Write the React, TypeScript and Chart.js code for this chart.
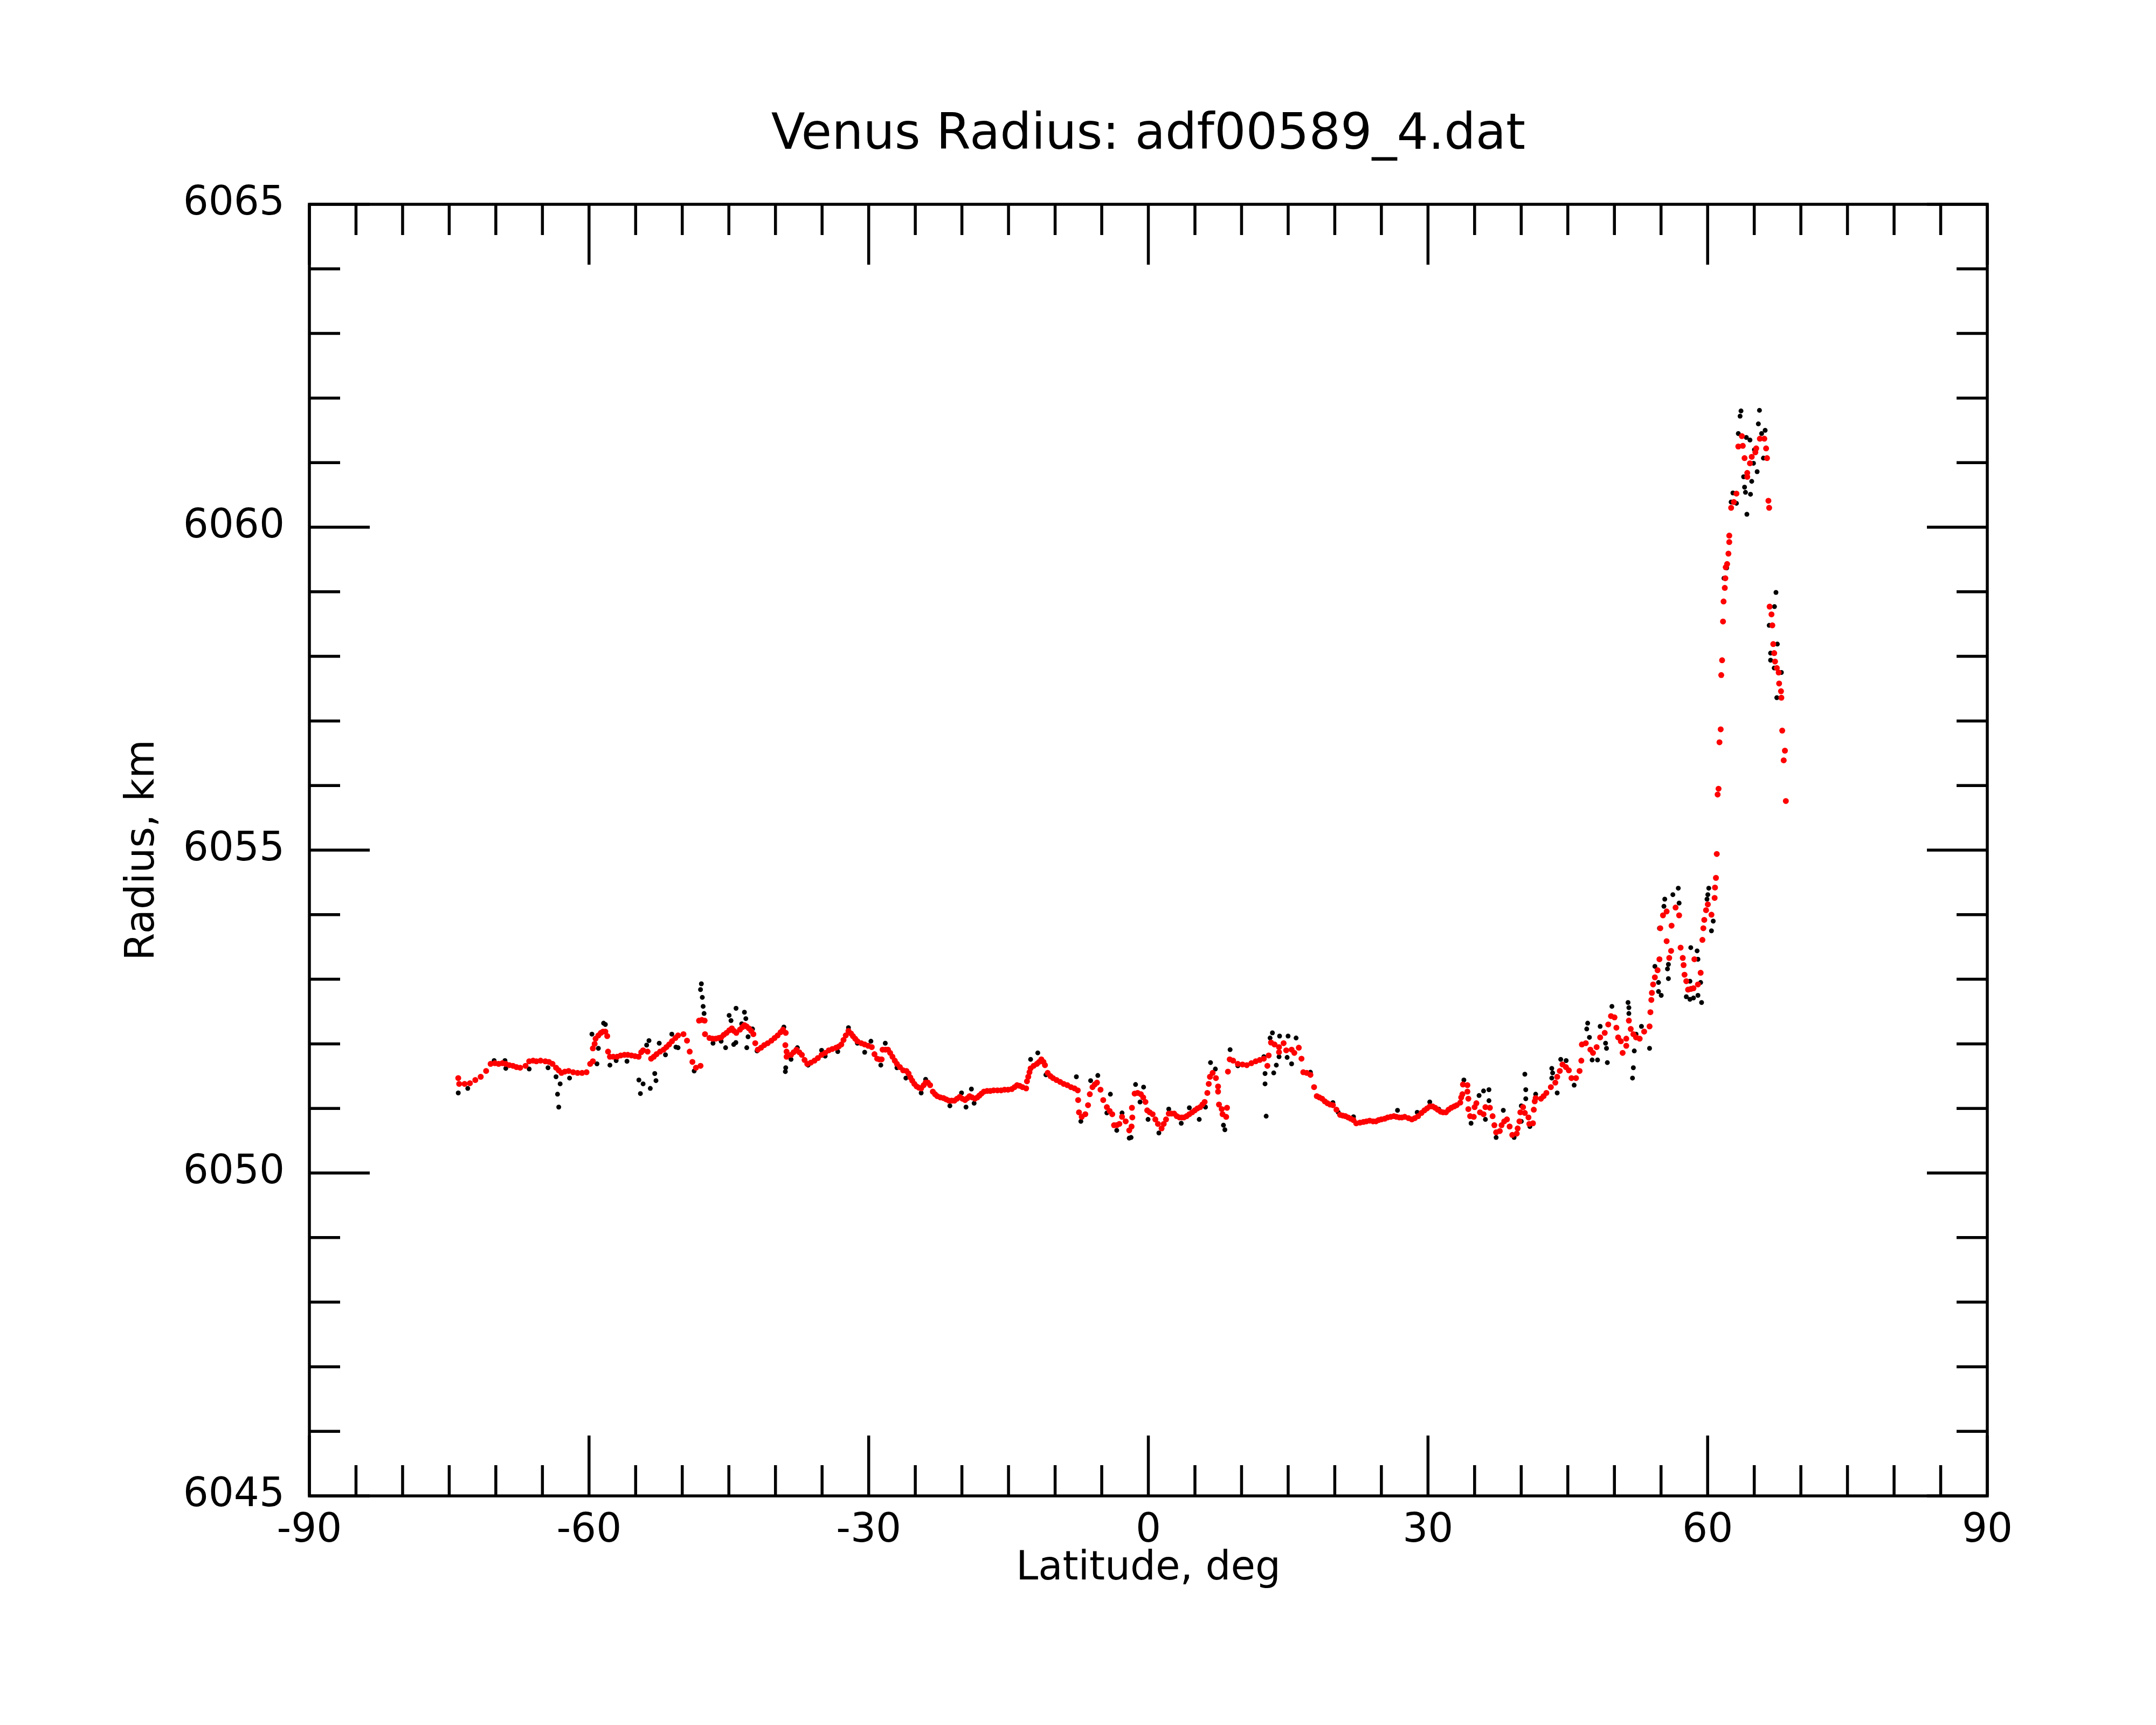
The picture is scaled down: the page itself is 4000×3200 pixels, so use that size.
import React, { useEffect, useRef } from "react";
import Chart from "chart.js/auto";

// tick positions (major ones get labels)
const latitudeTicks = [-90, -60, -30, 0, 30, 60, 90];
const latitudeMinorTicks = [
  -85, -80, -75, -70, -65, -55, -50, -45, -40, -35, -25, -20, -15, -10, -5,
  5, 10, 15, 20, 25, 35, 40, 45, 50, 55, 65, 70, 75, 80, 85,
];
const radiusTicks = [6045, 6050, 6055, 6060, 6065];
const radiusMinorTicks = [
  6046, 6047, 6048, 6049, 6051, 6052, 6053, 6054, 6056, 6057, 6058, 6059,
  6061, 6062, 6063, 6064,
];

// smoothed profile (red), [latitude, radius]
const fitSouth: [number, number][] = [
  [-74.03, 6051.47], [-73.93, 6051.38], [-73.35, 6051.38], [-72.78, 6051.39], [-72.2, 6051.44],
  [-71.62, 6051.49], [-71.04, 6051.58], [-70.56, 6051.69], [-70.1, 6051.7], [-69.7, 6051.69],
  [-69.3, 6051.7], [-68.93, 6051.69], [-68.55, 6051.67], [-68.16, 6051.66], [-67.78, 6051.64],
  [-67.39, 6051.63], [-66.81, 6051.66], [-66.42, 6051.73], [-66.0, 6051.74], [-65.65, 6051.73],
  [-65.2, 6051.74], [-64.69, 6051.73], [-64.3, 6051.72], [-63.92, 6051.69], [-63.54, 6051.63],
  [-63.25, 6051.59], [-62.96, 6051.55], [-62.6, 6051.57], [-62.19, 6051.58], [-61.7, 6051.56],
  [-61.23, 6051.55], [-60.75, 6051.55], [-60.27, 6051.56], [-59.88, 6051.69], [-59.59, 6051.73],
  [-59.59, 6051.93], [-59.4, 6052.0], [-59.3, 6052.08], [-59.0, 6052.13], [-58.73, 6052.17],
  [-58.5, 6052.19], [-58.25, 6052.19], [-58.05, 6052.12], [-57.96, 6051.88], [-57.76, 6051.8],
  [-57.4, 6051.8], [-56.99, 6051.8], [-56.6, 6051.82], [-56.2, 6051.83], [-55.84, 6051.83],
  [-55.45, 6051.82], [-55.07, 6051.81], [-54.68, 6051.8], [-54.4, 6051.87], [-54.2, 6051.9],
  [-53.72, 6051.88], [-53.34, 6051.77], [-53.05, 6051.8], [-52.76, 6051.84], [-52.38, 6051.88],
  [-51.99, 6051.91], [-51.7, 6051.95], [-51.41, 6051.99], [-51.1, 6052.04], [-50.74, 6052.09],
  [-50.45, 6052.13], [-49.87, 6052.15], [-49.49, 6052.05], [-49.2, 6051.88], [-48.91, 6051.72],
  [-48.53, 6051.63], [-48.04, 6051.66], [-48.2, 6052.36], [-47.9, 6052.37], [-47.6, 6052.36],
  [-47.56, 6052.15], [-47.08, 6052.09], [-46.75, 6052.08], [-46.41, 6052.08], [-46.1, 6052.09],
  [-45.83, 6052.1], [-45.55, 6052.14], [-45.25, 6052.17], [-44.95, 6052.21], [-44.68, 6052.24],
  [-44.45, 6052.2], [-44.2, 6052.17], [-43.81, 6052.22], [-43.55, 6052.26], [-43.33, 6052.29],
  [-43.1, 6052.27], [-42.85, 6052.24], [-42.6, 6052.2], [-42.37, 6052.15], [-42.17, 6052.01],
  [-41.89, 6051.91], [-41.55, 6051.94], [-41.21, 6051.98], [-40.83, 6052.01], [-40.44, 6052.05],
  [-40.1, 6052.09], [-39.77, 6052.13], [-39.45, 6052.18], [-39.19, 6052.22], [-38.9, 6052.17],
  [-38.94, 6051.98], [-38.81, 6051.88], [-38.81, 6051.8], [-38.33, 6051.83], [-38.05, 6051.87],
  [-37.75, 6051.91], [-37.45, 6051.87], [-37.17, 6051.83], [-36.88, 6051.75], [-36.59, 6051.69],
  [-36.2, 6051.71], [-35.82, 6051.74], [-35.45, 6051.78], [-35.05, 6051.83], [-34.67, 6051.86],
  [-34.28, 6051.9], [-33.9, 6051.92], [-33.51, 6051.94], [-33.2, 6051.96], [-32.94, 6051.99],
  [-32.7, 6052.06], [-32.46, 6052.13], [-32.17, 6052.2], [-31.9, 6052.16], [-31.69, 6052.12],
  [-31.45, 6052.08], [-31.21, 6052.04], [-30.8, 6052.01], [-30.43, 6051.99], [-30.05, 6051.97],
  [-29.67, 6051.95], [-29.38, 6051.84], [-29.09, 6051.77], [-28.85, 6051.76], [-28.61, 6051.76],
  [-28.51, 6051.91], [-28.2, 6051.91], [-27.93, 6051.91], [-27.7, 6051.86], [-27.45, 6051.8],
  [-27.2, 6051.74], [-26.97, 6051.69], [-26.65, 6051.64], [-26.3, 6051.59],
];

const fitEquator: [number, number][] = [
  [-25.95, 6051.58], [-25.72, 6051.54], [-25.53, 6051.48], [-25.33, 6051.43], [-25.1, 6051.38],
  [-24.85, 6051.34], [-24.6, 6051.32], [-24.37, 6051.31], [-24.1, 6051.36], [-23.89, 6051.4],
  [-23.65, 6051.4], [-23.41, 6051.36], [-23.12, 6051.26], [-22.88, 6051.22], [-22.64, 6051.19],
  [-22.3, 6051.17], [-21.97, 6051.16], [-21.68, 6051.14], [-21.39, 6051.12], [-21.1, 6051.12],
  [-20.81, 6051.12], [-20.52, 6051.15], [-20.23, 6051.18], [-19.95, 6051.15], [-19.66, 6051.13],
  [-19.4, 6051.16], [-19.18, 6051.19], [-18.9, 6051.17], [-18.6, 6051.15], [-18.35, 6051.17],
  [-18.12, 6051.2], [-17.9, 6051.23], [-17.64, 6051.26], [-17.3, 6051.27], [-16.96, 6051.27],
  [-16.6, 6051.28], [-16.19, 6051.28], [-15.8, 6051.28], [-15.42, 6051.29], [-15.05, 6051.29],
  [-14.65, 6051.3], [-14.35, 6051.33], [-14.08, 6051.36], [-13.8, 6051.35], [-13.5, 6051.33],
  [-13.11, 6051.31], [-13.02, 6051.42], [-12.88, 6051.49], [-12.75, 6051.56], [-12.63, 6051.62],
  [-12.3, 6051.66], [-11.96, 6051.69], [-11.72, 6051.72], [-11.48, 6051.76], [-11.25, 6051.72],
  [-11.09, 6051.67], [-10.8, 6051.55], [-10.5, 6051.5], [-10.23, 6051.47], [-9.85, 6051.44],
  [-9.46, 6051.41], [-9.08, 6051.38], [-8.69, 6051.36], [-8.3, 6051.33], [-7.92, 6051.31],
  [-7.57, 6051.28], [-7.53, 6051.13], [-7.44, 6050.94], [-7.15, 6050.87], [-6.76, 6050.91],
  [-6.47, 6051.05], [-6.28, 6051.22], [-5.99, 6051.33], [-5.75, 6051.37], [-5.51, 6051.4],
  [-5.13, 6051.29], [-4.84, 6051.13], [-4.45, 6051.02], [-4.15, 6050.96], [-3.87, 6050.91],
  [-3.68, 6050.74], [-3.4, 6050.74], [-3.11, 6050.76], [-2.82, 6050.87], [-2.43, 6050.8],
  [-2.05, 6050.66], [-1.8, 6050.72], [-1.72, 6050.86], [-1.76, 6051.01], [-1.47, 6051.23],
  [-1.15, 6051.24], [-0.8, 6051.22], [-0.55, 6051.17], [-0.31, 6051.1], [-0.12, 6050.97],
  [0.15, 6050.94], [0.46, 6050.91], [0.75, 6050.83], [1.03, 6050.76], [1.42, 6050.69],
  [1.65, 6050.76], [1.9, 6050.83], [2.19, 6050.92], [2.48, 6050.92], [2.77, 6050.92],
  [3.05, 6050.88], [3.34, 6050.86], [3.6, 6050.86], [3.82, 6050.86], [4.1, 6050.88],
  [4.4, 6050.91], [4.7, 6050.94], [4.98, 6050.97], [5.27, 6051.0], [5.56, 6051.02],
  [5.8, 6051.06], [6.04, 6051.1], [6.33, 6051.24], [6.48, 6051.38], [6.61, 6051.49],
  [6.9, 6051.55], [7.25, 6051.47], [7.48, 6051.34], [7.48, 6051.26], [7.58, 6051.06],
  [7.87, 6050.99], [8.44, 6051.01], [7.96, 6050.91], [8.35, 6050.87], [8.54, 6051.57],
  [8.73, 6051.76], [9.1, 6051.74], [9.6, 6051.69], [10.1, 6051.68], [10.56, 6051.67],
  [11.05, 6051.7], [11.52, 6051.73], [11.95, 6051.75], [12.39, 6051.77], [12.77, 6051.66],
  [12.91, 6051.82], [13.16, 6052.02], [13.54, 6051.99], [14.02, 6051.95], [14.51, 6052.01],
  [14.02, 6051.87], [14.79, 6051.9], [15.37, 6051.91], [15.66, 6051.86], [16.14, 6051.94],
  [16.43, 6051.77], [16.62, 6051.56], [17.0, 6051.55], [17.39, 6051.52], [17.78, 6051.33],
  [18.07, 6051.19], [18.35, 6051.17], [18.64, 6051.15], [18.93, 6051.11], [19.22, 6051.08],
  [19.5, 6051.06], [19.8, 6051.05], [20.18, 6050.98], [20.57, 6050.9], [20.85, 6050.89],
  [21.14, 6050.88], [21.43, 6050.86], [21.72, 6050.84], [22.0, 6050.82],
];

const fitNorth: [number, number][] = [
  [22.3, 6050.77], [22.7, 6050.78], [23.07, 6050.79], [23.4, 6050.8], [23.74, 6050.81],
  [24.1, 6050.8], [24.42, 6050.8], [24.7, 6050.82], [24.99, 6050.83], [25.35, 6050.84],
  [25.67, 6050.86], [26.0, 6050.87], [26.34, 6050.88], [26.62, 6050.87], [26.92, 6050.86],
  [27.2, 6050.86], [27.5, 6050.87], [27.9, 6050.85], [28.27, 6050.83], [28.6, 6050.85],
  [28.94, 6050.88], [29.3, 6050.93], [29.61, 6050.97], [29.9, 6051.0], [30.19, 6051.03],
  [30.5, 6051.03], [30.77, 6051.01], [31.05, 6050.98], [31.35, 6050.95], [31.62, 6050.94],
  [31.92, 6050.94], [32.2, 6050.98], [32.5, 6051.01], [32.8, 6051.03], [33.08, 6051.05],
  [33.46, 6051.09], [33.56, 6051.17], [33.69, 6051.22], [33.75, 6051.37], [34.23, 6051.36],
  [34.23, 6051.26], [34.33, 6051.15], [34.33, 6050.99], [34.52, 6050.88], [34.91, 6050.87],
  [35.0, 6051.02], [35.19, 6051.08], [35.58, 6050.94], [35.96, 6050.91], [36.16, 6051.02],
  [36.64, 6051.01], [36.93, 6050.88], [37.12, 6050.74], [37.31, 6050.63], [37.7, 6050.65],
  [37.89, 6050.74], [38.18, 6050.8], [38.47, 6050.83], [38.76, 6050.72], [39.04, 6050.59],
  [39.52, 6050.61], [39.62, 6050.69], [39.81, 6050.8], [39.91, 6050.94], [40.2, 6051.02],
  [40.39, 6050.93], [40.78, 6050.86], [40.87, 6050.76], [41.26, 6050.77], [41.35, 6050.98],
  [41.45, 6051.11], [41.55, 6051.16], [42.12, 6051.15], [42.4, 6051.19], [42.7, 6051.24],
  [43.18, 6051.33], [43.66, 6051.4], [43.86, 6051.49], [44.14, 6051.58], [44.43, 6051.68],
  [44.8, 6051.64], [45.11, 6051.59], [45.39, 6051.47], [45.88, 6051.47], [46.26, 6051.58],
  [46.45, 6051.74], [46.51, 6051.99], [46.93, 6052.01], [47.42, 6051.91], [47.7, 6051.86],
  [48.09, 6051.95], [48.47, 6052.1], [48.96, 6052.17], [49.34, 6052.3], [49.63, 6052.43],
  [50.01, 6052.41], [50.21, 6052.25], [50.4, 6052.1], [50.69, 6052.04], [50.88, 6051.86],
  [51.27, 6051.97], [51.27, 6052.08], [51.55, 6052.36], [51.75, 6052.23], [52.03, 6052.15],
  [52.32, 6052.1], [52.71, 6052.08], [53.19, 6052.19], [53.77, 6052.27], [53.86, 6052.49],
  [53.96, 6052.68], [54.02, 6052.79], [54.15, 6052.92], [54.34, 6053.03], [54.63, 6053.14],
  [54.83, 6053.31], [54.92, 6053.79], [55.21, 6053.99], [55.6, 6054.05], [56.13, 6053.83],
  [55.6, 6053.59], [56.08, 6053.44], [55.88, 6053.33], [56.56, 6054.11], [56.94, 6053.99],
  [57.1, 6053.49], [57.33, 6053.33], [57.42, 6053.22], [57.52, 6053.07], [57.71, 6052.97],
  [57.9, 6052.84], [58.2, 6052.85], [58.48, 6052.86], [58.96, 6052.92], [58.58, 6053.31],
  [59.25, 6053.1], [59.44, 6053.61], [59.54, 6053.79], [59.64, 6053.92], [59.83, 6054.07],
  [60.02, 6054.16], [60.41, 6054.0], [60.75, 6054.26], [60.79, 6054.42], [60.89, 6054.57],
  [60.98, 6054.94],
];

const fitPeak: [number, number][] = [
  [61.07, 6055.86], [61.17, 6055.95], [61.27, 6056.67], [61.4, 6056.87], [61.46, 6057.71],
  [61.55, 6057.94], [61.65, 6058.54], [61.71, 6058.85], [61.84, 6059.06], [61.9, 6059.21],
  [61.94, 6059.38], [62.09, 6059.43], [62.23, 6059.59], [62.32, 6059.77], [62.32, 6059.87],
  [62.52, 6060.3], [62.81, 6060.39], [63.09, 6060.52], [63.29, 6061.25], [63.77, 6061.26],
  [63.67, 6061.41], [63.96, 6061.07], [64.25, 6060.84], [64.25, 6060.78], [64.54, 6060.99],
  [64.73, 6061.09], [65.12, 6061.16], [65.21, 6061.22], [65.6, 6061.37], [66.08, 6061.37],
  [66.27, 6061.22], [66.37, 6061.07], [66.52, 6060.41], [66.6, 6060.3], [66.65, 6058.77],
  [66.85, 6058.65], [66.94, 6058.48], [67.04, 6058.19], [67.14, 6058.05], [67.23, 6057.92],
  [67.42, 6057.82], [67.62, 6057.75], [67.67, 6057.58], [67.87, 6057.46], [67.91, 6057.36],
  [68.0, 6056.85], [68.29, 6056.54], [68.16, 6056.39], [68.39, 6055.76],
];

// raw measurements (black) that stand apart from the smoothed profile
const rawSouth: [number, number][] = [
  [-74.03, 6051.24], [-73.01, 6051.31], [-70.18, 6051.74], [-69.02, 6051.74], [-68.93, 6051.62],
  [-66.42, 6051.61], [-64.4, 6051.63], [-63.54, 6051.49], [-63.1, 6051.38], [-63.38, 6051.22],
  [-63.25, 6051.02], [-62.09, 6051.47], [-59.69, 6052.15], [-59.0, 6051.93], [-59.15, 6051.69],
  [-58.44, 6052.32], [-58.25, 6052.3], [-57.76, 6051.67], [-57.09, 6051.74], [-55.93, 6051.73],
  [-54.65, 6051.44], [-54.2, 6051.38], [-54.49, 6051.23], [-53.43, 6051.31], [-52.95, 6051.54],
  [-52.82, 6051.43], [-53.57, 6052.05], [-53.82, 6051.98], [-52.47, 6052.01], [-51.8, 6051.83],
  [-51.12, 6052.15], [-50.68, 6051.95], [-50.45, 6051.94], [-48.72, 6051.58], [-47.95, 6052.93],
  [-48.04, 6052.84], [-47.85, 6052.72], [-47.76, 6052.58], [-47.66, 6052.47], [-46.7, 6052.01],
  [-45.83, 6052.04], [-45.35, 6051.94], [-44.97, 6052.44], [-44.77, 6052.36], [-44.23, 6052.55],
  [-44.48, 6051.99], [-44.25, 6052.02], [-43.62, 6052.31], [-43.33, 6052.49], [-43.18, 6052.39],
  [-42.94, 6052.11], [-43.08, 6051.94], [-42.46, 6052.23], [-41.98, 6051.89], [-39.1, 6052.26],
  [-38.9, 6051.63], [-38.94, 6051.57], [-38.33, 6051.76], [-37.65, 6051.94], [-36.5, 6051.67],
  [-35.05, 6051.9], [-34.67, 6051.81], [-33.32, 6051.88], [-32.17, 6052.25], [-31.21, 6052.01],
  [-30.43, 6051.87], [-29.76, 6052.04], [-28.7, 6051.67], [-28.22, 6052.01], [-26.97, 6051.63],
];

const rawEquator: [number, number][] = [
  [-26.01, 6051.47], [-23.89, 6051.45], [-24.37, 6051.24], [-21.29, 6051.04], [-20.04, 6051.24],
  [-19.56, 6051.02], [-18.98, 6051.3], [-18.69, 6051.08], [-12.63, 6051.76], [-11.86, 6051.86],
  [-10.99, 6051.52], [-7.72, 6051.49], [-7.24, 6050.8], [-6.19, 6051.43], [-5.42, 6051.51],
  [-4.07, 6051.22], [-4.45, 6050.93], [-3.39, 6050.66], [-2.82, 6050.93], [-2.05, 6050.54],
  [-1.85, 6050.55], [-1.37, 6051.37], [-0.51, 6051.33], [-0.89, 6051.1], [-0.03, 6050.83],
  [1.13, 6050.62], [2.19, 6050.99], [3.53, 6050.77], [4.4, 6051.01], [5.46, 6050.83],
  [6.13, 6051.02], [6.67, 6051.71], [7.19, 6051.61], [8.06, 6050.74], [8.21, 6050.67],
  [8.77, 6051.91], [9.6, 6051.66], [12.39, 6051.8], [12.52, 6051.54], [12.52, 6051.38],
  [12.64, 6050.88], [13.31, 6052.17], [13.06, 6052.09], [13.45, 6051.55], [13.73, 6051.67],
  [14.08, 6052.12], [14.99, 6052.12], [15.85, 6052.09], [15.37, 6051.69], [14.02, 6051.8],
  [14.89, 6051.79], [17.39, 6051.56], [19.8, 6051.09], [20.37, 6050.94], [22.01, 6050.87],
];

const rawNorth: [number, number][] = [
  [26.73, 6050.97], [28.84, 6050.94], [30.19, 6051.1], [31.15, 6050.99], [33.85, 6051.44],
  [34.62, 6050.77], [35.48, 6051.2], [35.96, 6051.27], [36.54, 6051.29], [36.54, 6051.12],
  [36.16, 6050.83], [37.31, 6050.55], [38.08, 6050.97], [39.24, 6050.55], [40.01, 6050.8],
  [40.01, 6051.04], [40.39, 6051.53], [40.49, 6051.29], [40.49, 6051.15], [40.93, 6050.72],
  [41.55, 6051.22], [43.28, 6051.62], [43.37, 6051.55], [43.28, 6051.47], [43.86, 6051.24],
  [44.24, 6051.76], [44.82, 6051.74], [45.68, 6051.36], [47.13, 6052.32], [47.03, 6052.23],
  [47.32, 6052.1], [47.61, 6051.75], [48.19, 6051.75], [48.47, 6052.27], [49.05, 6052.01],
  [49.15, 6051.93], [49.24, 6051.71], [49.73, 6052.58], [51.46, 6052.64], [51.55, 6052.47],
  [51.55, 6052.56], [52.13, 6051.89], [52.03, 6051.63], [51.94, 6051.47], [52.9, 6052.27],
  [52.32, 6052.15], [53.77, 6051.93], [54.34, 6053.2], [54.73, 6052.95], [54.73, 6052.81],
  [55.02, 6052.75], [54.83, 6053.79], [55.4, 6054.24], [55.31, 6054.13], [56.27, 6054.31],
  [56.85, 6054.41], [56.94, 6054.18], [55.79, 6053.23], [55.69, 6053.16], [55.79, 6053.01],
  [58.19, 6053.49], [58.87, 6053.44], [58.96, 6053.31], [58.1, 6052.97], [57.71, 6052.73],
  [58.1, 6052.69], [58.48, 6052.71], [58.96, 6052.75], [59.35, 6052.64], [59.25, 6052.95],
  [60.12, 6054.41], [60.02, 6054.31], [59.93, 6054.24], [60.6, 6053.9], [60.41, 6053.75],
];

const rawPeak: [number, number][] = [
  [63.58, 6061.8], [63.48, 6061.72], [65.56, 6061.81], [65.44, 6061.6], [63.29, 6061.45],
  [64.15, 6061.39], [64.54, 6061.35], [65.79, 6061.45], [66.17, 6061.5], [65.02, 6061.2],
  [65.98, 6061.07], [64.92, 6060.99], [65.31, 6060.86], [63.86, 6060.78], [64.73, 6060.71],
  [63.96, 6060.62], [64.06, 6060.54], [64.6, 6060.51], [62.71, 6060.53], [62.52, 6060.39],
  [63.09, 6060.37], [64.21, 6060.2], [62.04, 6059.37], [61.75, 6059.21], [67.33, 6058.99],
  [67.17, 6058.77], [66.6, 6058.48], [67.48, 6058.19], [66.75, 6058.05], [66.75, 6057.94],
  [67.14, 6057.82], [67.91, 6057.75], [67.42, 6057.36],
];

const toXY = (pts: [number, number][]) => pts.map(([x, y]) => ({ x, y }));

// inward tick marks on all four sides plus the frame
const frameTicks = {
  id: "frameTicks",
  beforeDatasetsDraw(chart: any) {
    const { ctx, chartArea: a, scales } = chart;
    const xs = scales.x;
    const ys = scales.y;
    ctx.save();
    ctx.strokeStyle = "#000";
    ctx.lineWidth = 5.5;
    ctx.lineCap = "butt";
    ctx.beginPath();
    const xTick = (vals: number[], len: number) => {
      vals.forEach((v) => {
        const px = xs.getPixelForValue(v);
        ctx.moveTo(px, a.bottom);
        ctx.lineTo(px, a.bottom - len);
        ctx.moveTo(px, a.top);
        ctx.lineTo(px, a.top + len);
      });
    };
    const yTick = (vals: number[], len: number) => {
      vals.forEach((v) => {
        const py = ys.getPixelForValue(v);
        ctx.moveTo(a.left, py);
        ctx.lineTo(a.left + len, py);
        ctx.moveTo(a.right, py);
        ctx.lineTo(a.right - len, py);
      });
    };
    xTick(latitudeTicks, 112);
    xTick(latitudeMinorTicks, 57);
    yTick(radiusTicks, 112);
    yTick(radiusMinorTicks, 57);
    ctx.stroke();
    ctx.strokeRect(a.left, a.top, a.right - a.left, a.bottom - a.top);
    ctx.restore();
  },
};

const VenusRadiusChart: React.FC = () => {
  const chartRef = useRef<HTMLCanvasElement | null>(null);
  const chartInstanceRef = useRef<Chart | null>(null);

  useEffect(() => {
    if (!chartRef.current) return;
    const ctx = chartRef.current.getContext("2d");
    if (!ctx) return;

    Chart.defaults.font.family = "'DejaVu Sans', sans-serif";
    Chart.defaults.color = "#000";

    chartInstanceRef.current = new Chart(ctx, {
      type: "scatter",
      data: {
        datasets: [
          {
            label: "smoothed",
            data: toXY([...fitSouth, ...fitEquator, ...fitNorth, ...fitPeak]),
            backgroundColor: "#ff0000",
            pointRadius: 5.5,
            pointBorderWidth: 0,
          },
          {
            label: "raw",
            data: toXY([...rawSouth, ...rawEquator, ...rawNorth, ...rawPeak]),
            backgroundColor: "#000000",
            pointRadius: 4.5,
            pointBorderWidth: 0,
          },
        ],
      },
      options: {
        animation: false,
        responsive: true,
        maintainAspectRatio: false,
        devicePixelRatio: 1,
        layout: { padding: { left: 0, right: 313, top: 0, bottom: 0 } },
        plugins: {
          legend: { display: false },
          tooltip: { enabled: false },
          title: {
            display: true,
            text: "Venus Radius: adf00589_4.dat",
            color: "#000",
            fullSize: false,
            font: { size: 92, weight: "normal" },
            padding: { top: 197, bottom: 71.6 },
          },
        },
        scales: {
          x: {
            type: "linear",
            min: -90,
            max: 90,
            afterBuildTicks: (scale: any) => {
              scale.ticks = latitudeTicks.map((value) => ({ value }));
            },
            afterFit: (scale: any) => {
              scale.height = 425;
            },
            grid: { display: false },
            border: { display: false },
            ticks: {
              color: "#000",
              font: { size: 74 },
              padding: 13,
              autoSkip: false,
              maxRotation: 0,
              callback: (value: any) => String(value),
            },
            title: {
              display: true,
              text: "Latitude, deg",
              color: "#000",
              font: { size: 74 },
              padding: { top: 0, bottom: 245 },
            },
          },
          y: {
            type: "linear",
            min: 6045,
            max: 6065,
            afterBuildTicks: (scale: any) => {
              scale.ticks = radiusTicks.map((value) => ({ value }));
            },
            afterFit: (scale: any) => {
              scale.width = 574;
            },
            grid: { display: false },
            border: { display: false },
            ticks: {
              color: "#000",
              font: { size: 74 },
              padding: 38,
              autoSkip: false,
              callback: (value: any) => String(value),
            },
            title: {
              display: true,
              text: "Radius, km",
              color: "#000",
              font: { size: 74 },
              padding: { top: 221, bottom: 0 },
            },
          },
        },
      },
      plugins: [frameTicks],
    });

    return () => {
      if (chartInstanceRef.current) {
        chartInstanceRef.current.destroy();
        chartInstanceRef.current = null;
      }
    };
  }, []);

  return (
    <div
      style={{
        position: "absolute",
        left: 0,
        top: 0,
        width: "4000px",
        height: "3200px",
        background: "#fff",
      }}
    >
      <canvas ref={chartRef}></canvas>
    </div>
  );
};

export default function App() {
  return <VenusRadiusChart />;
}
